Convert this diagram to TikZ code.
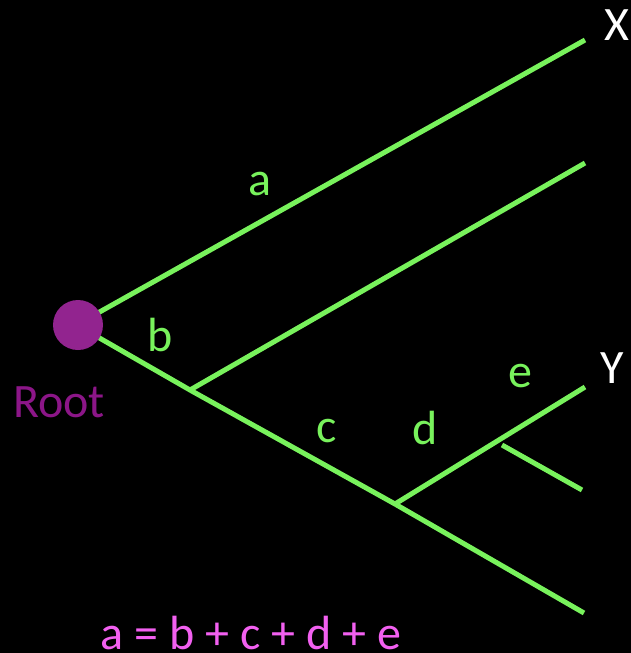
\documentclass[tikz,border=0pt]{standalone}
\usepackage{fontspec}
\setmainfont{Carlito}
\definecolor{brgreen}{RGB}{120,242,92}
\definecolor{rootpurple}{RGB}{146,36,143}
\definecolor{roottext}{RGB}{140,22,136}
\definecolor{eqpink}{RGB}{242,96,240}
\begin{document}
\begin{tikzpicture}[x=1pt,y=-1pt,
  branch/.style={draw=brgreen,line width=5pt},
  txt/.style={font=\fontsize{48}{52}\selectfont,inner sep=0pt,anchor=base},
  lbl/.style={txt,text=brgreen},
  tip/.style={txt,text=white}]
\fill[black] (0,0) rectangle (631,653);
\useasboundingbox (0,0) rectangle (631,653);
% nodes / coordinates
\coordinate (r1) at (96,314);
\coordinate (r2) at (96,336);
\coordinate (X) at (585,40);
\coordinate (n1) at (190,390);
\coordinate (t2) at (585,163);
\coordinate (n2) at (395,504);
\coordinate (Y) at (585,387);
\coordinate (n3) at (502,445);
\coordinate (t4) at (582,490);
\coordinate (t5) at (584,613);
% branches
\draw[branch] (r1) -- (X);
\draw[branch] (r2) -- (n1) -- (n2) -- (t5);
\draw[branch] (n1) -- (t2);
\draw[branch] (n2) -- (Y);
\draw[branch] (n3) -- (t4);
% root
\node[circle,fill=rootpurple,minimum size=50pt,inner sep=0pt] (root) at (78,325) {};
\node[txt,text=roottext] (rootlbl) at (59,417) {Root};
% labels
\node[lbl] (la) at (260,195) {a};
\node[lbl] (lb) at (160,351) {b};
\node[lbl] (lc) at (327,442) {c};
\node[lbl] (ld) at (425,444) {d};
\node[lbl] (le) at (520,387) {e};
\node[tip] (lX) at (617,40) {X};
\node[tip] (lY) at (612,383) {Y};
\node[txt,text=eqpink,text depth=0pt] (eq) at (251,649) {a = b + c + d + e};
\end{tikzpicture}
\end{document}
